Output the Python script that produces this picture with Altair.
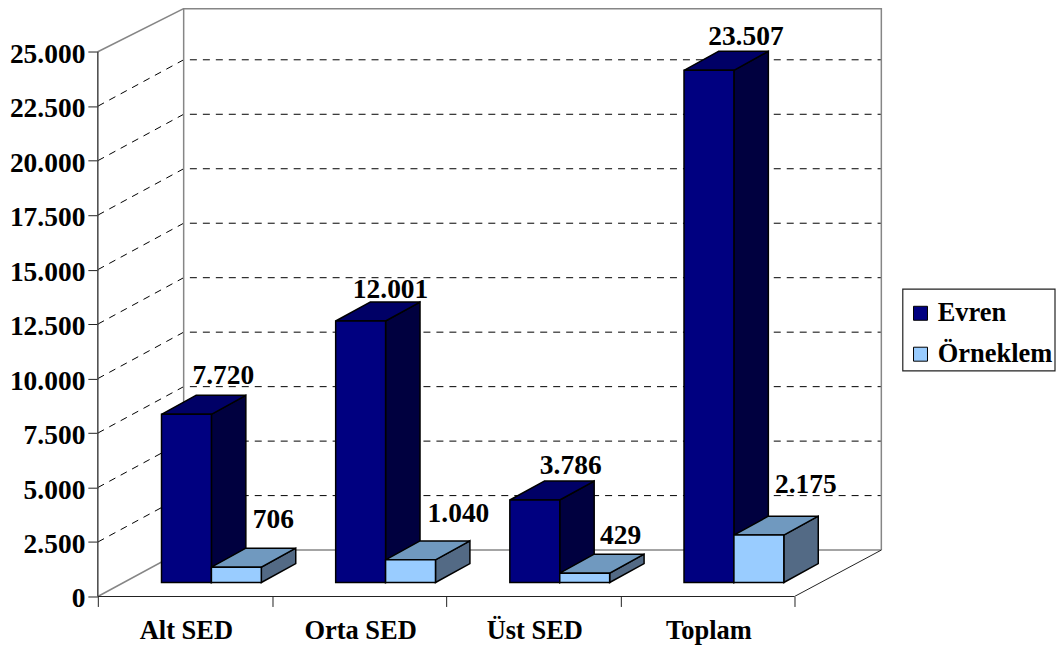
import altair as alt
import pandas as pd

categories = ["Alt SED", "Orta SED", "Üst SED", "Toplam"]
evren = [7720, 12001, 3786, 23507]
orneklem = [706, 1040, 429, 2175]
series_names = ["Evren", "Örneklem"]
y_ticks = [0, 2500, 5000, 7500, 10000, 12500, 15000, 17500, 20000, 22500, 25000]

# label nudges relative to each bar's front-left corner (px across, px above top)
evren_nudge = [(62, 38), (55, 31), (61, 34), (62, 33)]
orneklem_nudge = [(62, 47), (73, 46), (61, 37), (72, 50)]

FONT = "Liberation Serif"
FS = 26.5
FS_NUM = 27.5
W, H = 785, 589
PX_X = 1 / 174.5            # category units per px
PX_Y = 25000 / 545.8        # value units per px
XMAX = W * PX_X
YMAX = H * PX_Y
WALL_X, WALL_Y = 86 * PX_X, 46.5 * PX_Y
BAR_W = 50 * PX_X
BAR_X0 = 63.8 * PX_X
BASE = 14 * PX_Y
DEPTH_X, DEPTH_Y = 34.5 * PX_X, 19 * PX_Y

xs = alt.Scale(domain=[0, XMAX], nice=False, zero=False)
ys = alt.Scale(domain=[0, YMAX], nice=False, zero=False)
x_axis = alt.Axis(values=[0, 1, 2, 3, 4], labels=False, domain=False, grid=False,
                  tickSize=10, tickColor="#222222", tickWidth=1)
y_axis = alt.Axis(values=y_ticks, domain=False, grid=False, tickSize=10,
                  tickColor="#222222", tickWidth=1, labelPadding=3, labelOffset=2.5,
                  labelFont=FONT, labelFontSize=FS_NUM, labelFontWeight="bold", labelColor="black",
                  labelExpr="replace(format(datum.value, ','), ',', '.')")
X = lambda f="x": alt.X(f"{f}:Q", scale=xs, axis=x_axis, title=None, stack=None)
Y = lambda f="y": alt.Y(f"{f}:Q", scale=ys, axis=y_axis, title=None, stack=None)

# ---- walls
grid_rows, frame_rows = [], []
for v in y_ticks[1:-1]:
    for x, y in [(0, v), (WALL_X, v + WALL_Y), (XMAX, v + WALL_Y)]:
        grid_rows.append(dict(g=v, x=x, y=y))
frame_paths = [
    [(0, 0), (WALL_X, WALL_Y), (XMAX, WALL_Y)],
    [(WALL_X, WALL_Y), (WALL_X, YMAX - 1)],
    [(0, 25000), (WALL_X, YMAX - 1), (XMAX, YMAX - 1), (XMAX, WALL_Y)],
]
for i, p in enumerate(frame_paths):
    for x, y in p:
        frame_rows.append(dict(g=i, x=x, y=y, idx=len(frame_rows)))

grid = alt.Chart(pd.DataFrame(grid_rows)).mark_line(color="black", strokeWidth=1, strokeDash=[7, 6]).encode(
    x=X(), y=Y(), detail="g:N", order="x:Q")
frame = alt.Chart(pd.DataFrame(frame_rows)).mark_line(
    color="#868686", strokeWidth=1.5).encode(x=X(), y=Y(), detail="g:N", order=alt.Order("idx:Q"))
floor_edge = alt.Chart(pd.DataFrame({"x": [4, XMAX], "y": [0, WALL_Y]})).mark_line(color="#222222", strokeWidth=1).encode(x=X(), y=Y())
x_line = alt.Chart(pd.DataFrame({"x": [0, 4], "y": [0, 0]})).mark_line(color="#222222", strokeWidth=1.2).encode(x=X(), y=Y())
y_line = alt.Chart(pd.DataFrame({"x": [0, 0], "y": [0, 25000]})).mark_line(color="#444444", strokeWidth=1.5).encode(x=X(), y=Y())

# ---- legend frame (px measured from the plot's lower-left corner)
legend_box = alt.Chart(pd.DataFrame([dict(x=806.5 * PX_X, x2=959 * PX_X, y=226 * PX_Y, y2=308 * PX_Y)])).mark_rect(
    fill="white", stroke="#222222", strokeWidth=1.2).encode(x=X(), x2="x2:Q", y=Y(), y2="y2:Q")

# ---- bars
front, side, top, labels = [], [], [], []
for s, (name, vals, nudge) in enumerate([(series_names[0], evren, evren_nudge), (series_names[1], orneklem, orneklem_nudge)]):
    for i, v in enumerate(vals):
        x0 = i + BAR_X0 + s * BAR_W
        x1 = x0 + BAR_W
        y0 = BASE
        y1 = BASE + v
        bid = f"{s}-{i}"
        front.append(dict(series=name, x=x0, x2=x1, y=y0, y2=y1))
        side.append(dict(b=bid, s=name, x=x1, y=y0, y2=y1))
        side.append(dict(b=bid, s=name, x=x1 + DEPTH_X, y=y0 + DEPTH_Y, y2=y1 + DEPTH_Y))
        top.append(dict(b=bid, s=name, y=y1, x=x0, x2=x1))
        top.append(dict(b=bid, s=name, y=y1 + DEPTH_Y, x=x0 + DEPTH_X, x2=x1 + DEPTH_X))
        lab = f"{v:,}".replace(",", ".")
        labels.append(dict(x=x0 + nudge[i][0] * PX_X, y=y1 + nudge[i][1] * PX_Y, t=lab))

side_colors = alt.Scale(domain=series_names, range=["#00003f", "#536a85"])
top_colors = alt.Scale(domain=series_names, range=["#000066", "#7099bf"])

side_layer = alt.Chart(pd.DataFrame(side)).mark_area(stroke="black", strokeWidth=1.5).encode(
    x=X(), y=Y(), y2="y2:Q", detail="b:N",
    fill=alt.Fill("s:N", scale=side_colors, legend=None))
top_layer = alt.Chart(pd.DataFrame(top)).mark_area(orient="horizontal", stroke="black", strokeWidth=1.5).encode(
    y=Y(), x=X(), x2="x2:Q", detail="b:N",
    fill=alt.Fill("s:N", scale=top_colors, legend=None))
front_layer = alt.Chart(pd.DataFrame(front)).mark_rect(stroke="black", strokeWidth=1.5).encode(
    x=X(), x2="x2:Q", y=Y(), y2="y2:Q",
    color=alt.Color("series:N", title=None,
                    scale=alt.Scale(domain=series_names, range=["#000080", "#99ccff"]),
                    legend=alt.Legend(orient="none", legendX=811, legendY=292, padding=0,
                                      symbolType="square", symbolSize=196, symbolStrokeColor="black",
                                      symbolStrokeWidth=1, symbolOpacity=1, labelFont=FONT, labelFontSize=FS,
                                      labelFontWeight="bold", labelColor="black", labelOffset=4,
                                      rowPadding=14, labelLimit=200)))

val_labels = alt.Chart(pd.DataFrame(labels)).mark_text(
    font=FONT, fontSize=FS_NUM, fontWeight="bold", color="black", baseline="middle", align="center").encode(
    x=X(), y=Y(), text="t:N")
cat_labels = alt.Chart(pd.DataFrame({"x": [i + 0.5 for i in range(4)], "y": [0] * 4, "t": categories})).mark_text(
    font=FONT, fontSize=FS, fontWeight="bold", color="black", baseline="middle", align="center", dy=35, dx=1.5).encode(
    x=X(), y=Y(), text="t:N")

chart = alt.layer(grid, frame, floor_edge, x_line, y_line, legend_box, side_layer, top_layer, front_layer,
                  val_labels, cat_labels).resolve_scale(fill="independent", color="independent").properties(
    width=W, height=H, autosize="none",
    padding={"left": 90, "top": 0, "right": 175, "bottom": 50},
).configure_view(stroke=None)

chart.save("out.html", embed_options={"renderer": "svg", "actions": False})
